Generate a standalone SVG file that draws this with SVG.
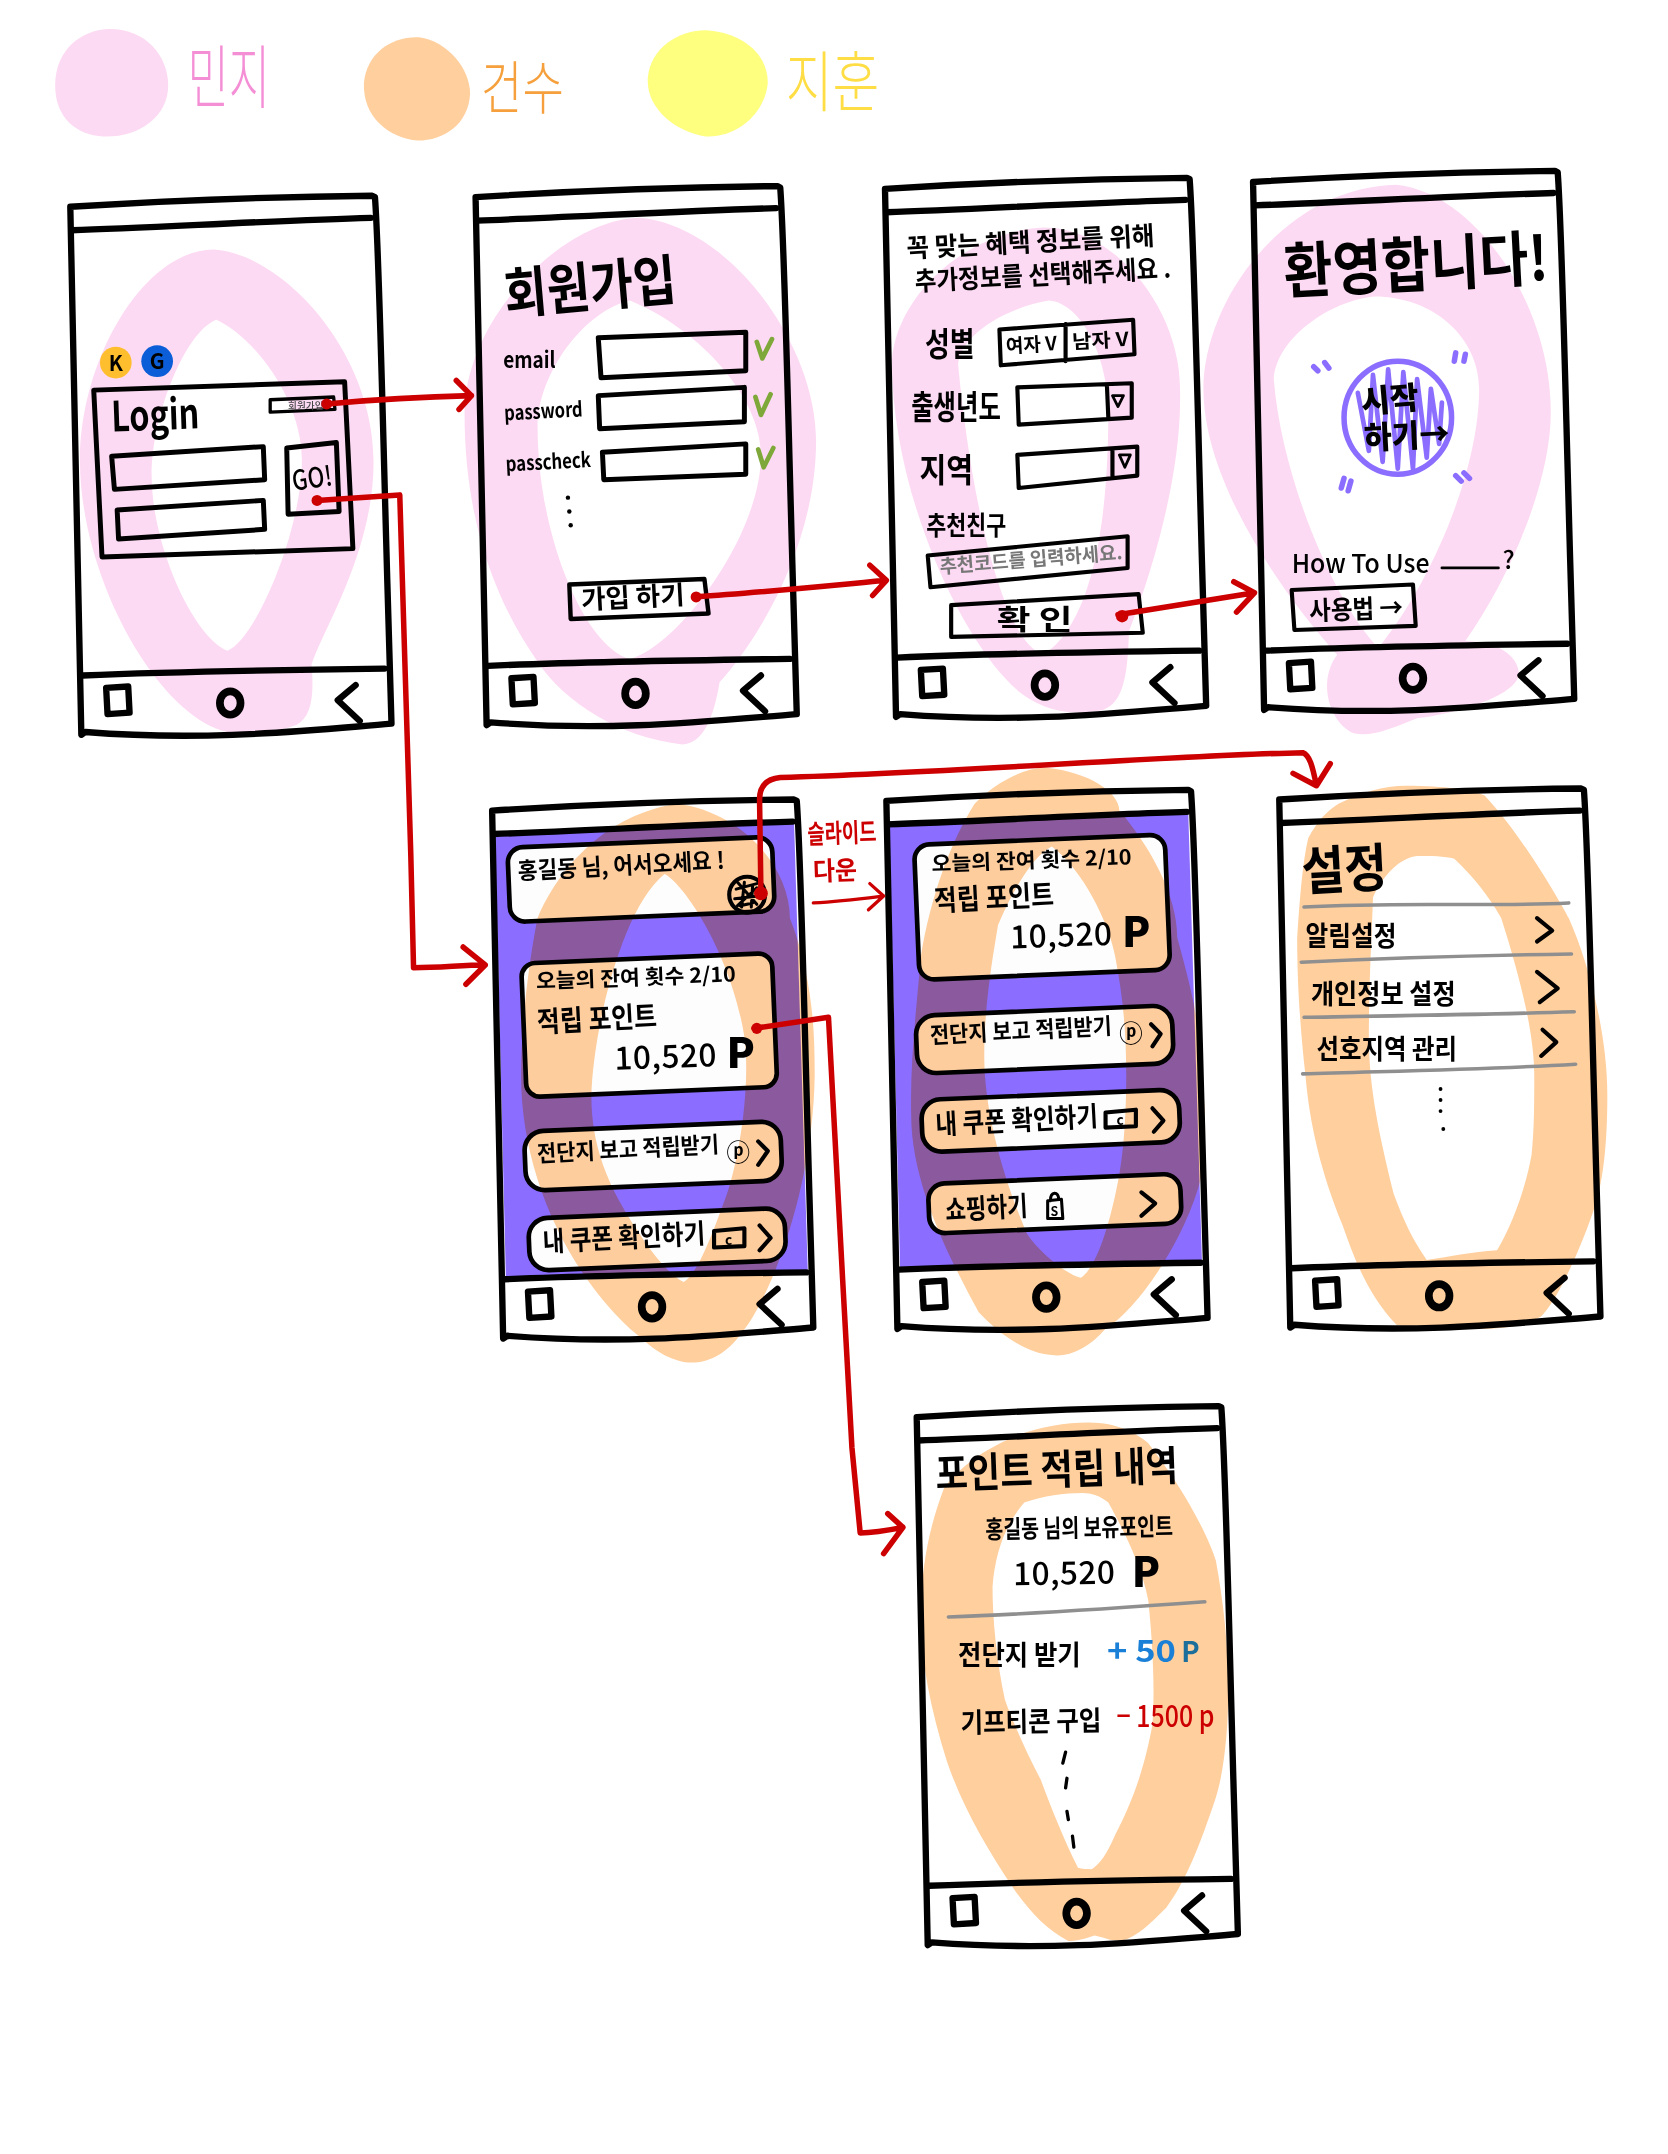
<svg xmlns="http://www.w3.org/2000/svg" width="1668" height="2154" viewBox="0 0 1668 2154">
<style>
.t{font-family:"Noto Sans CJK KR","Noto Sans",sans-serif;font-weight:700;fill:#000}
.n{font-weight:500}
.ln{fill:none;stroke:#000;stroke-width:4.6;stroke-linecap:round;stroke-linejoin:round}
.th{fill:none;stroke:#000;stroke-width:3;stroke-linecap:round;stroke-linejoin:round}
.pk{fill:#FDDAF3;fill-rule:evenodd;mix-blend-mode:multiply}
.or{fill:#FFCF9E;fill-rule:evenodd;mix-blend-mode:multiply}
.scr{fill:#8B6DFF}
.cd{fill:#FDFDFD}
.gy{fill:none;stroke:#8f8f8f;stroke-width:2.6;stroke-linecap:round}
.ck{fill:none;stroke:#7FA83A;stroke-width:3.4;stroke-linecap:round;stroke-linejoin:round}
.pu{fill:none;stroke:#8B6DFF;stroke-width:4;stroke-linecap:round;stroke-linejoin:round}
.rd{fill:none;stroke:#CC0000;stroke-width:4;stroke-linecap:round;stroke-linejoin:round}
.dot{fill:#CC0000}
</style>
<defs>
<g id="frame">
<path class="ln" d="M0,0 C32,-2 118,-7 219,-8 L221,-7 C224,33 226,132 230,273 L233,375 C170,380 100,388 11,381 L8,383 C5,202 2,62 0,0Z"/>
<path class="ln" d="M1,17 C60,15 150,10 218,8"/>
<path class="ln" d="M9,340 C80,337 150,336 228,335"/>
<path class="ln" d="M26,349 L42,348 L43,367 L27,368Z"/>
<ellipse class="ln" style="stroke-width:5.6" cx="116" cy="360" rx="7.5" ry="8.5"/>
<path class="ln" d="M207,347 L194,358 L210,373"/>
</g>
</defs>
<rect width="1668" height="2154" fill="#fff"/>
<g transform="scale(1.3785)">

<g id="legend">
<path fill="#FDDAF3" d="M40,62 C40,35 60,22 78,21 C105,20 122,40 122,62 C122,85 100,100 75,99 C55,98 40,85 40,62Z"/>
<path fill="#FFCF9E" d="M264,60 C266,38 285,26 304,27 C325,30 341,50 341,68 C340,90 322,102 303,102 C282,100 263,85 264,60Z"/>
<path fill="#FFFF7F" d="M470,56 C472,35 492,22 512,22 C540,24 557,40 557,60 C555,82 535,100 512,99 C490,96 468,78 470,56Z"/>
<text class="t" x="136" y="75" font-size="50" textLength="60" lengthAdjust="spacingAndGlyphs" style="fill:#F48FD6;font-weight:300">민지</text>
<text class="t" x="349" y="79" font-size="42" textLength="60" lengthAdjust="spacingAndGlyphs" style="fill:#F5A03C;font-weight:300">건수</text>
<text class="t" x="570" y="77" font-size="48" textLength="68" lengthAdjust="spacingAndGlyphs" style="fill:#FFDD44;font-weight:300">지훈</text>
</g>

<g id="phone-login">
<path class="pk" d="M155,181 C205,184 271,255 271,335 C271,400 235,455 226,482 C228,505 226,520 215,526 C195,533 175,533 165,531 C115,520 58,420 58,334 C58,260 105,181 155,181Z M157,232 C185,245 219,290 219,334 C219,385 185,465 165,472 C140,462 110,395 110,345 C110,300 135,240 157,232Z"/>
<use href="#frame" x="51" y="150"/>
<circle cx="84" cy="263" r="11.5" fill="#FFBE2E"/><text class="t" x="84" y="269" font-size="15" text-anchor="middle">K</text>
<circle cx="114" cy="262" r="11.5" fill="#0B5ED7"/><text class="t" x="114" y="268" font-size="15" text-anchor="middle">G</text>
<path class="ln" d="M68,283 L250,277 L256,398 L74,404Z" style="stroke-width:3.6"/>
<text class="t" x="81" y="313" font-size="30" textLength="64" lengthAdjust="spacingAndGlyphs" transform="rotate(-2 81 313)">Login</text>
<path class="th" style="stroke-width:2.4" d="M196,290 L242,288 L243,297 L196,299Z"/>
<text class="t n" x="209" y="297" font-size="7" style="fill:#444">회원가입</text>
<path class="ln" style="stroke-width:3.6" d="M81,331 L191,324 L192,348 L83,355Z"/>
<path class="ln" style="stroke-width:3.6" d="M85,370 L191,363 L192,384 L86,391Z"/>
<path class="ln" style="stroke-width:3.6" d="M208,325 L244,321 L246,371 L209,373Z"/>
<text class="t n" x="213" y="356" font-size="20" textLength="29" lengthAdjust="spacingAndGlyphs" transform="rotate(-8 213 356)">GO!</text>
</g>

<g id="phone-signup">
<path class="pk" d="M465,158 C530,165 592,250 592,320 C592,400 545,470 522,495 C518,520 510,540 495,540 C450,535 410,510 390,480 C355,430 337,370 337,300 C337,230 410,158 465,158Z M457,218 C510,240 552,290 552,330 C552,390 490,470 457,478 C425,470 390,390 390,310 C390,270 425,225 457,218Z"/>
<use href="#frame" x="345" y="143"/>
<text class="t" x="367" y="228" font-size="40" textLength="125" lengthAdjust="spacingAndGlyphs" transform="rotate(-5 367 228)">회원가입</text>
<text class="t" x="365" y="267" font-size="16" textLength="38" lengthAdjust="spacingAndGlyphs">email</text>
<text class="t" x="366" y="305" font-size="15" textLength="57" lengthAdjust="spacingAndGlyphs" transform="rotate(-3 366 305)">password</text>
<text class="t" x="367" y="342" font-size="15" textLength="62" lengthAdjust="spacingAndGlyphs" transform="rotate(-3 367 342)">passcheck</text>
<path class="ln" style="stroke-width:3.6" d="M434,245 L541,241 L541,269 L436,274Z"/>
<path class="ln" style="stroke-width:3.6" d="M434,287 L540,281 L540,306 L435,311Z"/>
<path class="ln" style="stroke-width:3.6" d="M437,328 L541,322 L541,344 L438,348Z"/>
<path class="ck" d="M549,248 L553,260 L560,246"/>
<path class="ck" d="M548,288 L552,301 L559,286"/>
<path class="ck" d="M550,326 L554,339 L561,325"/>
<circle cx="412" cy="361" r="1.6"/><circle cx="413" cy="371" r="1.6"/><circle cx="414" cy="381" r="1.6"/>
<path class="ln" style="stroke-width:3.2" d="M413,424 L511,420 L514,445 L414,449Z"/>
<text class="t" x="422" y="442" font-size="19" textLength="75" lengthAdjust="spacingAndGlyphs" transform="rotate(-3 422 442)">가입 하기</text>
</g>

<g id="phone-extra-info">
<path class="pk" d="M757,165 C810,165 856,225 856,282 C858,350 830,430 819,458 C818,490 815,510 800,515 C770,522 745,510 730,493 C690,450 647,350 647,262 C650,215 700,168 757,165Z M761,218 C785,220 804,260 804,299 C804,370 795,450 757,475 C725,465 703,350 695,264 C698,240 735,222 761,218Z"/>
<use href="#frame" x="642" y="137"/>
<text class="t" x="658" y="187" font-size="19" textLength="180" lengthAdjust="spacingAndGlyphs" transform="rotate(-3 658 187)">꼭 맞는 혜택 정보를 위해</text>
<text class="t" x="664" y="211" font-size="19" textLength="186" lengthAdjust="spacingAndGlyphs" transform="rotate(-3 664 211)">추가정보를 선택해주세요 .</text>
<text class="t" x="671" y="258" font-size="24" textLength="36" lengthAdjust="spacingAndGlyphs">성별</text>
<path class="ln" style="stroke-width:3" d="M725,239 L822,232 L823,257 L726,265Z M773,235 L773,262"/>
<text class="t" x="730" y="256" font-size="14" textLength="37" lengthAdjust="spacingAndGlyphs" transform="rotate(-3 730 256)">여자 V</text>
<text class="t" x="778" y="253" font-size="14" textLength="41" lengthAdjust="spacingAndGlyphs" transform="rotate(-3 778 253)">남자 V</text>
<text class="t" x="661" y="304" font-size="24" textLength="65" lengthAdjust="spacingAndGlyphs">출생년도</text>
<path class="ln" style="stroke-width:3" d="M738,281 L821,278 L821,303 L739,308Z M803,280 L804,303"/>
<path class="th" style="stroke-width:2" d="M807,287 L815,287 L811,295Z"/>
<text class="t" x="667" y="350" font-size="24" textLength="39" lengthAdjust="spacingAndGlyphs">지역</text>
<path class="ln" style="stroke-width:3" d="M738,330 L825,324 L825,345 L739,354Z M807,326 L807,346"/>
<path class="th" style="stroke-width:2" d="M812,330 L820,330 L816,339Z"/>
<text class="t" x="672" y="388" font-size="19" textLength="58" lengthAdjust="spacingAndGlyphs">추천친구</text>
<path class="ln" style="stroke-width:3" d="M673,403 L818,389 L818,412 L675,426Z"/>
<text class="t" x="682" y="416" font-size="14" textLength="133" lengthAdjust="spacingAndGlyphs" transform="rotate(-4.5 682 416)" style="fill:#777">추천코드를 입력하세요.</text>
<path class="ln" style="stroke-width:3" d="M690,439 L826,431 L829,459 L690,462Z"/>
<text class="t" x="723" y="457" font-size="21" textLength="55" lengthAdjust="spacingAndGlyphs">확 인</text>
</g>

<g id="phone-welcome">
<path class="pk" d="M1013,134 C1070,140 1125,220 1125,299 C1125,350 1095,420 1063,465 C1085,465 1102,475 1102,490 C1095,510 1040,520 1028,521 C1010,528 995,535 982,532 C965,525 955,495 970,475 C930,430 873,350 873,282 C873,220 930,136 1013,134Z M997,215 C1040,215 1073,245 1073,282 C1073,340 1040,420 1000,470 C970,440 930,350 924,275 C926,245 965,218 997,215Z"/>
<use href="#frame" x="909" y="132"/>
<text class="t" x="932" y="213" font-size="44" textLength="192" lengthAdjust="spacingAndGlyphs" transform="rotate(-3 932 213)">환영합니다!</text>
<ellipse class="pu" cx="1014" cy="303" rx="39" ry="41"/>
<path class="pu" style="stroke-width:3.4" d="M985,285 L993,327 L996,272 L1003,335 L1007,268 L1014,340 L1018,270 L1025,340 L1028,275 L1035,332 L1038,282 L1044,322 L1046,292"/>
<text class="t" x="988" y="300" font-size="23" textLength="42" lengthAdjust="spacingAndGlyphs" transform="rotate(-5 988 300)" style="font-weight:900">시작</text>
<text class="t" x="990" y="326" font-size="23" textLength="62" lengthAdjust="spacingAndGlyphs" transform="rotate(-3 990 326)" style="font-weight:900">하기→</text>
<path class="pu" d="M953,266 L956,269 M961,263 L964,267 M1055,262 L1056,256 M1062,262 L1063,257 M973,354 L975,347 M978,356 L980,349 M1056,345 L1060,349 M1062,343 L1066,347"/>
<text class="t n" x="937" y="416" font-size="19" textLength="100" lengthAdjust="spacingAndGlyphs">How To Use</text>
<path class="th" style="stroke-width:2" d="M1046,412 L1087,412"/>
<text class="t n" x="1090" y="413" font-size="18">?</text>
<path class="ln" style="stroke-width:3" d="M937,428 L1025,424 L1027,454 L939,457Z"/>
<text class="t" x="950" y="450" font-size="19" textLength="68" lengthAdjust="spacingAndGlyphs" transform="rotate(-2 950 450)">사용법 →</text>
</g>

<g id="phone-home">
<path class="scr" d="M359,605 L576,596 L586,923 L367,928Z"/>
<rect class="cd" x="368" y="615" width="192" height="54" rx="11" transform="rotate(-2.4 368 615)"/>
<rect class="cd" x="378" y="699" width="182" height="97" rx="10" transform="rotate(-2.4 378 699)"/>
<rect class="cd" x="380" y="821" width="186" height="43" rx="14" transform="rotate(-2.4 380 821)"/>
<rect class="cd" x="383" y="884" width="186" height="38" rx="14" transform="rotate(-2.4 383 884)"/>
<path class="or" d="M492,583 C540,590 573,630 573,666 C590,710 591,750 591,780 C590,860 560,940 538,967 C525,985 510,990 496,988 C480,985 470,975 457,964 C410,920 378,850 378,780 C378,740 385,690 390,666 C405,630 440,590 492,583Z M482,634 C495,640 530,690 540,752 C545,790 535,850 524,875 C515,900 505,925 496,930 C485,925 470,905 464,895 C440,860 429,830 429,795 C430,750 450,660 482,634Z"/>
<use href="#frame" x="357" y="588"/>
<rect class="th" x="368" y="615" width="192" height="54" rx="11" transform="rotate(-2.4 368 615)" style="stroke-width:3.4"/>
<rect class="th" x="378" y="699" width="182" height="97" rx="10" transform="rotate(-2.4 378 699)" style="stroke-width:3.4"/>
<rect class="th" x="380" y="821" width="186" height="43" rx="14" transform="rotate(-2.4 380 821)" style="stroke-width:3.4"/>
<rect class="th" x="383" y="884" width="186" height="38" rx="14" transform="rotate(-2.4 383 884)" style="stroke-width:3.4"/>
<text class="t" x="376" y="638" font-size="17" textLength="150" lengthAdjust="spacingAndGlyphs" transform="rotate(-3 376 638)">홍길동 님, 어서오세요 !</text>
<circle class="th" cx="542" cy="649" r="13"/>
<path class="th" style="stroke-width:2.2" d="M534,645 L549,641 M533,652 L550,650 M537,657 L546,655 M540,640 L538,658 M546,642 L545,658 M535,640 L549,656 M549,644 L535,657"/>
<text class="t" x="389" y="717" font-size="15" textLength="145" lengthAdjust="spacingAndGlyphs" transform="rotate(-2 389 717)">오늘의 잔여 횟수 2/10</text>
<text class="t" x="390" y="749" font-size="21" textLength="87" lengthAdjust="spacingAndGlyphs" transform="rotate(-3 390 749)">적립 포인트</text>
<text class="t n" x="446" y="776" font-size="23" textLength="74" transform="rotate(-2 446 776)">10,520</text>
<text class="t" x="527" y="775" font-size="30" style="font-weight:900">P</text>
<text class="t" x="390" y="843" font-size="16.5" textLength="132" lengthAdjust="spacingAndGlyphs" transform="rotate(-3 390 843)">전단지 보고 적립받기</text>
<text class="t" x="527" y="842" font-size="17">ⓟ</text>
<path class="th" d="M550,828 L557,835 L550,845"/>
<text class="t" x="394" y="908" font-size="20" textLength="118" lengthAdjust="spacingAndGlyphs" transform="rotate(-3 394 908)">내 쿠폰 확인하기</text>
<path class="th" d="M518,893 L540,891 L540,904 L518,905Z"/>
<text class="t" x="526" y="903" font-size="10">c</text>
<path class="th" d="M551,889 L559,898 L551,907"/>
</g>

<g id="phone-home-scrolled">
<path class="scr" d="M645,599 L862,590 L872,917 L653,922Z"/>
<rect class="cd" x="663" y="613" width="182" height="98" rx="11" transform="rotate(-2.4 663 613)"/>
<rect class="cd" x="664" y="737" width="186" height="42" rx="14" transform="rotate(-2.4 664 737)"/>
<rect class="cd" x="668" y="798" width="187" height="38" rx="14" transform="rotate(-2.4 668 798)"/>
<rect class="cd" x="673" y="859" width="183" height="36" rx="12" transform="rotate(-2.4 673 859)"/>
<path class="or" d="M759,557 C790,560 812,575 812,588 C835,615 854,650 854,680 C865,720 872,750 872,780 C875,810 875,835 872,852 C860,900 825,950 802,964 C790,978 775,985 763,983 C745,982 725,968 710,952 C690,915 661,860 661,809 C660,770 665,730 668,694 C675,650 690,610 707,583 C720,570 740,557 759,557Z M763,614 C785,630 805,670 809,694 C815,725 817,750 817,780 C817,810 815,835 812,852 C805,890 795,920 784,927 C775,925 755,910 745,895 C730,860 714,810 714,766 C714,730 720,695 724,671 C735,645 750,620 763,614Z"/>
<use href="#frame" x="643" y="581"/>
<rect class="th" x="663" y="613" width="182" height="98" rx="11" transform="rotate(-2.4 663 613)" style="stroke-width:3.4"/>
<rect class="th" x="664" y="737" width="186" height="42" rx="14" transform="rotate(-2.4 664 737)" style="stroke-width:3.4"/>
<rect class="th" x="668" y="798" width="187" height="38" rx="14" transform="rotate(-2.4 668 798)" style="stroke-width:3.4"/>
<rect class="th" x="673" y="859" width="183" height="36" rx="12" transform="rotate(-2.4 673 859)" style="stroke-width:3.4"/>
<text class="t" x="676" y="632" font-size="15" textLength="145" lengthAdjust="spacingAndGlyphs" transform="rotate(-2 676 632)">오늘의 잔여 횟수 2/10</text>
<text class="t" x="678" y="661" font-size="21" textLength="87" lengthAdjust="spacingAndGlyphs" transform="rotate(-3 678 661)">적립 포인트</text>
<text class="t n" x="733" y="688" font-size="23" textLength="74" transform="rotate(-2 733 688)">10,520</text>
<text class="t" x="814" y="687" font-size="30" style="font-weight:900">P</text>
<text class="t" x="675" y="757" font-size="16.5" textLength="132" lengthAdjust="spacingAndGlyphs" transform="rotate(-3 675 757)">전단지 보고 적립받기</text>
<text class="t" x="812" y="756" font-size="17">ⓟ</text>
<path class="th" d="M835,743 L842,750 L836,759"/>
<text class="t" x="679" y="823" font-size="20" textLength="118" lengthAdjust="spacingAndGlyphs" transform="rotate(-3 679 823)">내 쿠폰 확인하기</text>
<path class="th" d="M802,807 L824,805 L824,817 L802,818Z"/>
<text class="t" x="810" y="816" font-size="10">c</text>
<path class="th" d="M836,804 L844,813 L837,821"/>
<text class="t" x="686" y="885" font-size="20" textLength="60" lengthAdjust="spacingAndGlyphs" transform="rotate(-3 686 885)">쇼핑하기</text>
<path class="th" style="stroke-width:2.2" d="M760,871 L770,870 L771,884 L760,884Z M762,871 C762,864 768,864 768,870"/>
<text class="t" x="762" y="882" font-size="9">S</text>
<path class="th" d="M828,865 L838,873 L828,882"/>
</g>

<g id="phone-settings">
<path class="or" transform="translate(-2,0)" d="M1022,570 C1050,570 1070,573 1079,577 C1110,610 1140,666 1140,666 C1155,700 1168,750 1168,795 C1168,830 1165,860 1157,881 C1145,915 1130,945 1120,955 C1100,965 1085,964 1066,964 C1045,966 1030,965 1015,961 C995,940 985,915 976,889 C960,850 952,815 949,780 C945,745 943,710 943,680 C945,650 947,625 951,608 C958,595 965,588 973,583 C990,575 1005,570 1022,570Z M1030,621 C1040,621 1050,621 1057,623 C1070,635 1082,650 1091,666 C1105,710 1115,750 1115,780 C1115,800 1115,820 1113,838 C1108,865 1098,890 1088,907 C1070,908 1052,912 1037,914 C1027,900 1020,885 1013,866 C1003,825 995,790 995,752 C995,715 997,680 998,651 C1005,635 1018,622 1030,621Z"/>
<use href="#frame" x="928" y="580"/>
<g transform="translate(-3,-1)">
<text class="t" x="948" y="647" font-size="38" textLength="62" lengthAdjust="spacingAndGlyphs" transform="rotate(-3 948 647)">설정</text>
<path class="gy" d="M949,659 C1020,655 1080,659 1141,656"/>
<text class="t" x="950" y="687" font-size="20" textLength="66" lengthAdjust="spacingAndGlyphs">알림설정</text>
<path class="th" d="M1118,667 L1129,676 L1118,684"/>
<path class="gy" d="M947,699 C1010,696 1080,694 1143,693"/>
<text class="t" x="954" y="729" font-size="20" textLength="105" lengthAdjust="spacingAndGlyphs">개인정보 설정</text>
<path class="th" d="M1118,706 L1133,718 L1120,728"/>
<path class="gy" d="M949,739 C1010,738 1080,737 1145,735"/>
<text class="t" x="958" y="769" font-size="20" textLength="102" lengthAdjust="spacingAndGlyphs">선호지역 관리</text>
<path class="th" d="M1122,748 L1132,757 L1121,767"/>
<path class="gy" d="M948,780 C1010,778 1080,777 1146,773"/>
<circle cx="1048" cy="791" r="1.4"/><circle cx="1048" cy="799" r="1.4"/><circle cx="1048" cy="807" r="1.4"/><circle cx="1050" cy="820" r="1.4"/>
</g>
</g>

<g id="phone-points">
<path class="or" d="M790,1032 C810,1032 825,1040 833,1047 C855,1075 875,1110 882,1132 C888,1165 891,1195 891,1225 C891,1255 888,1285 882,1304 C870,1340 860,1365 846,1384 C835,1395 825,1405 814,1408 C805,1408 800,1405 794,1404 C788,1406 782,1408 775,1408 C760,1400 748,1388 736,1371 C715,1340 698,1310 687,1278 C675,1240 668,1205 668,1172 C668,1135 675,1105 685,1079 C700,1060 718,1050 736,1042 C755,1035 772,1032 790,1032Z M785,1083 C792,1083 798,1085 804,1090 C815,1110 828,1135 833,1161 C836,1190 838,1225 836,1251 C830,1285 820,1310 809,1331 C803,1345 798,1352 792,1356 C788,1356 785,1356 782,1355 C772,1335 762,1310 755,1291 C745,1272 735,1250 729,1233 C723,1205 720,1175 720,1151 C722,1125 730,1105 743,1090 C757,1085 772,1083 785,1083Z"/>
<use href="#frame" x="665" y="1028"/>
<g transform="translate(-1,-4)">
<text class="t" x="680" y="1084" font-size="30" textLength="176" lengthAdjust="spacingAndGlyphs" transform="rotate(-2 680 1084)">포인트 적립 내역</text>
<text class="t" x="716" y="1120" font-size="18" textLength="136" lengthAdjust="spacingAndGlyphs" transform="rotate(-1 716 1120)">홍길동 님의 보유포인트</text>
<text class="t n" x="736" y="1154" font-size="23" textLength="74" transform="rotate(-1 736 1154)">10,520</text>
<text class="t" x="822" y="1155" font-size="30" style="font-weight:900">P</text>
<path class="gy" d="M689,1177 C750,1175 820,1170 875,1166"/>
<text class="t" x="696" y="1212" font-size="20" textLength="89" lengthAdjust="spacingAndGlyphs">전단지 받기</text>
<text class="t" x="804" y="1210" font-size="22" style="fill:#1a7fd6" textLength="50" lengthAdjust="spacingAndGlyphs">+ 50</text>
<text class="t" x="858" y="1210" font-size="20" style="fill:#1b6f9a">P</text>
<text class="t" x="698" y="1261" font-size="20" textLength="102" lengthAdjust="spacingAndGlyphs" transform="rotate(-1 698 1261)">기프티콘 구입</text>
<text class="t n" x="811" y="1257" font-size="22" style="fill:#CC0000" textLength="71" lengthAdjust="spacingAndGlyphs">− 1500 p</text>
<path class="th" style="stroke-width:2.4" d="M774,1275 L772,1283 M775,1294 L774,1301 M775,1318 L776,1324 M779,1336 L780,1344"/>
</g>
</g>

<g id="note-slide-down">
<text class="t" x="586" y="612" font-size="19" style="fill:#CC0000" textLength="50" lengthAdjust="spacingAndGlyphs" transform="rotate(-2 586 612)">슬라이드</text>
<text class="t" x="590" y="639" font-size="19" style="fill:#CC0000" textLength="32" lengthAdjust="spacingAndGlyphs" transform="rotate(-2 590 639)">다운</text>
</g>

<g id="connectors">
<path class="rd" d="M237,293 C270,290 300,288 342,287 M331,276 L342,287 L333,297"/>
<circle class="dot" cx="237" cy="293" r="4"/>
<path class="rd" d="M230,363 L290,359 C292,420 296,560 298,620 L300,702 C320,702 335,700 352,700 M336,687 L352,700 L338,714"/>
<circle class="dot" cx="230" cy="363" r="4"/>
<path class="rd" d="M505,433 C550,430 600,425 643,421 M631,410 L643,421 L633,432"/>
<circle class="dot" cx="505" cy="433" r="4"/>
<path class="rd" d="M811,446 C850,440 880,435 910,430 M895,422 L910,430 L897,444"/>
<circle class="dot" cx="814" cy="447" r="4.5"/>
<path class="rd" d="M552,648 L551,580 C551,570 556,565 566,564 C700,560 850,548 945,546 C950,548 952,555 955,570 M938,561 L955,570 L965,554"/>
<circle class="dot" cx="552" cy="648" r="5"/>
<path class="rd" style="stroke-width:2.4" d="M590,655 C610,654 625,652 641,650 M631,641 L641,650 L630,660"/>
<path class="rd" d="M547,746 L601,738 C605,800 612,950 618,1050 L624,1112 C635,1112 645,1110 655,1108 M644,1098 L655,1108 L641,1127"/>
<circle class="dot" cx="549" cy="746" r="4"/>
</g>
</g>
</svg>
